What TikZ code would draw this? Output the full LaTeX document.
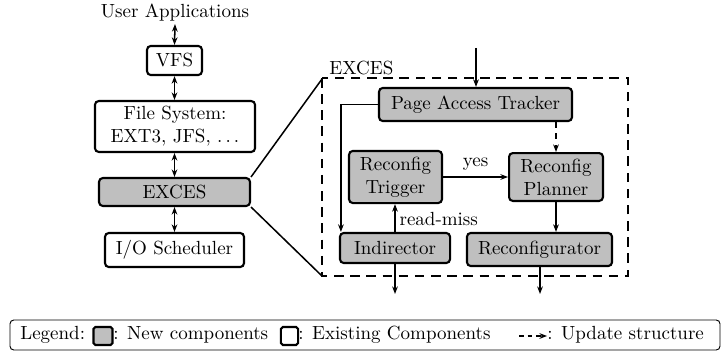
\documentclass[tikz,border=0pt]{standalone}
\usetikzlibrary{arrows.meta,calc}
\definecolor{boxgray}{RGB}{191,191,191}
\begin{document}
\begin{tikzpicture}[x=0.526pt,y=-0.526pt,
  box/.style={draw,rounded corners=2pt,line width=1.1pt,inner sep=0pt,align=center},
  newbox/.style={box,fill=boxgray},
  oldbox/.style={box,fill=white},
  legsq/.style={rounded corners=1pt},
  tip/.tip={Stealth[length=4pt,width=3pt]},
  conn/.style={line width=0.8pt,-tip},
  bconn/.style={line width=0.8pt,tip-tip},
  txt/.style={inner sep=0pt},
]
\useasboundingbox (0,0) rectangle (722,352);

% left stack
\node[txt] (ua) at (175,13) {User Applications};
\node[oldbox,minimum width=28.9pt,minimum height=15.3pt] (vfs) at (174.5,60.5) {VFS};
\node[oldbox,minimum width=84.2pt,minimum height=26.8pt] (fs) at (175,126.5) {File System:\\EXT3, JFS, $\ldots$};
\node[newbox,minimum width=79.4pt,minimum height=14.7pt] (ex) at (174.5,192) {EXCES};
\node[oldbox,minimum width=73.1pt,minimum height=17.9pt] (io) at (174.5,250) {I/O Scheduler};

\draw[bconn] ($(ua.south)+(0,2)$) -- (vfs.north);
\draw[bconn] (vfs.south) -- (vfs.south |- fs.north);
\draw[bconn] (vfs.south |- fs.south) -- (vfs.south |- ex.north);
\draw[bconn] (vfs.south |- ex.south) -- (vfs.south |- io.north);

% EXCES detail frame
\coordinate (ftl) at (322,78);
\coordinate (fbr) at (628,276);
\draw[line width=1.1pt,dash pattern=on 5pt off 3.5pt] (ftl) rectangle (fbr);
\node[txt,anchor=west] (exlabel) at (329,68) {EXCES};
\coordinate (zt) at (322,79);
\coordinate (zb) at (322,276);
\draw[line width=0.8pt] (ex.north east) -- (zt);
\draw[line width=0.8pt] (ex.south east) -- (zb);

% inner components
\node[newbox,minimum width=101.5pt,minimum height=17.4pt] (pat) at (475.5,104.5) {Page Access Tracker};
\node[newbox,minimum width=48.9pt,minimum height=27.4pt] (trig) at (395.5,177) {Reconfig\\Trigger};
\node[newbox,minimum width=49.4pt,minimum height=25.2pt] (plan) at (556,177) {Reconfig\\Planner};
\node[newbox,minimum width=57.9pt,minimum height=15.8pt] (ind) at (395,248) {Indirector};
\node[newbox,minimum width=76.3pt,minimum height=17.4pt] (rec) at (539.5,249.5) {Reconfigurator};

\coordinate (in) at (476,48);
\draw[conn] (in) -- (in |- pat.north);
\coordinate (indl) at ($(ind.north west)+(2,0)$);
\draw[conn] (pat.west) -| (indl);
\draw[conn,dashed] (pat.south -| plan.north) -- (plan.north);
\draw[conn] (trig.east) -- node[txt,above=3pt] (yes) {yes} (plan.west);
\draw[conn] (ind.north) -- node[txt,right=2pt,pos=0.45] (rm) {read-miss} (ind.north |- trig.south);
\draw[conn] (plan.south) -- (plan.south |- rec.north);
\coordinate (o1) at (395,294);
\coordinate (o2) at (540,294);
\draw[conn] (ind.south) -- (o1);
\draw[conn] (rec.south -| o2) -- (o2);

% legend
\draw[line width=0.5pt,rounded corners=2pt] (10,320) rectangle (720,350);
\node[txt,anchor=base west] (lg1) at (20,339) {Legend:};
\node[newbox,legsq,minimum width=10pt,minimum height=9.5pt] (lsq1) at (103,336) {};
\node[txt,anchor=base west] (lg2) at (113,339) {: New components};
\node[oldbox,legsq,minimum width=9pt,minimum height=9.5pt] (lsq2) at (289.5,336) {};
\node[txt,anchor=base west] (lg3) at (298,339) {: Existing Components};
\coordinate (la1) at (519,336);
\coordinate (la2) at (547,336);
\draw[conn,dash pattern=on 2.5pt off 2pt] (la1) -- (la2);
\node[txt,anchor=base west] (lg4) at (547,339) {: Update structure};
\end{tikzpicture}
\end{document}
